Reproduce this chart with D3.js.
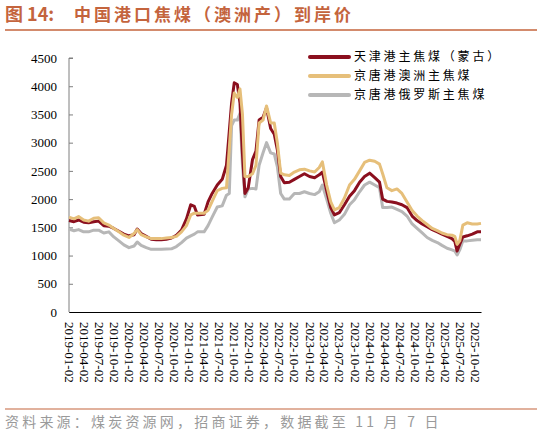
<!DOCTYPE html>
<html>
<head>
<meta charset="utf-8">
<script src="https://cdn.jsdelivr.net/npm/d3@7"></script>
<style>
  body { margin: 0; background: #fff; }
  svg { display: block; }
</style>
</head>
<body>
<svg width="541" height="433"></svg>
<script>
// weekly series, read off roughly once or twice a month
var dates = [
  "2019-01-02","2019-02-01","2019-03-01","2019-04-01","2019-05-01","2019-06-01","2019-07-01","2019-08-01",
  "2019-09-01","2019-10-01","2019-11-01","2019-12-01","2020-01-01","2020-02-01","2020-02-20","2020-03-15",
  "2020-04-15","2020-05-15","2020-06-15","2020-07-15","2020-08-15","2020-09-15","2020-10-15","2020-11-15",
  "2020-12-15","2021-01-10","2021-02-01","2021-02-20","2021-04-01","2021-04-25","2021-05-20","2021-06-20",
  "2021-07-20","2021-08-15","2021-09-01","2021-09-15","2021-10-01","2021-10-20","2021-11-05","2021-11-20",
  "2021-12-05","2021-12-25","2022-01-20","2022-02-10","2022-03-01","2022-03-25","2022-04-15","2022-05-10",
  "2022-06-01","2022-06-20","2022-07-10","2022-08-01","2022-09-01","2022-10-01","2022-11-01","2022-12-01",
  "2023-01-01","2023-02-01","2023-03-01","2023-03-20","2023-04-15","2023-05-10","2023-06-01","2023-07-01",
  "2023-08-01","2023-09-01","2023-10-01","2023-11-01","2023-12-01","2024-01-01","2024-02-01","2024-03-01",
  "2024-03-20","2024-04-15","2024-05-15","2024-06-15","2024-07-15","2024-08-15","2024-09-15","2024-10-15",
  "2024-11-15","2024-12-15","2025-01-15","2025-02-15","2025-03-15","2025-04-15","2025-05-15","2025-06-01",
  "2025-06-15","2025-07-01","2025-07-20","2025-08-15","2025-09-15","2025-10-15","2025-11-07"
];

var tianjinMongolia = [
  1620,1600,1630,1590,1580,1600,1610,1530,
  1520,1480,1430,1380,1350,1370,1470,1390,
  1340,1290,1280,1280,1290,1310,1360,1450,
  1650,1900,1870,1720,1730,1950,2100,2250,
  2350,2600,3200,3700,4060,4030,3700,2800,
  2100,2200,2700,2850,3400,3450,3620,3250,
  3150,2870,2400,2290,2300,2350,2400,2450,
  2400,2380,2430,2480,2150,1850,1720,1760,
  1900,2050,2150,2300,2400,2460,2380,2300,
  2000,1960,1950,1930,1900,1850,1700,1620,
  1560,1510,1460,1420,1380,1340,1300,1250,
  1080,1200,1330,1350,1380,1420,1420
];

var jingtangAustralia = [
  1680,1650,1690,1630,1610,1660,1670,1580,
  1540,1480,1420,1360,1320,1390,1460,1370,
  1330,1300,1300,1300,1310,1320,1340,1420,
  1530,1720,1750,1750,1750,1800,1960,2150,
  2190,2200,2900,3500,3880,3800,3950,3500,
  2400,2400,2450,2600,3350,3400,3650,3350,
  3350,2990,2460,2430,2420,2480,2520,2530,
  2500,2480,2560,2660,2250,1950,1810,1850,
  2020,2250,2350,2500,2650,2690,2670,2620,
  2450,2200,2150,2180,2100,1950,1800,1700,
  1620,1550,1480,1440,1400,1370,1360,1340,
  1200,1260,1540,1580,1560,1560,1570
];

var jingtangRussia = [
  1470,1440,1460,1420,1420,1450,1450,1400,
  1420,1330,1260,1190,1140,1170,1240,1180,
  1140,1110,1110,1110,1115,1120,1160,1230,
  1310,1350,1380,1420,1420,1530,1680,1860,
  1880,2070,2100,3300,3400,3400,3520,2600,
  2040,2180,2190,2180,2600,2820,3000,2820,
  2800,2570,2100,2000,2000,2100,2100,2130,
  2100,2080,2130,2250,2000,1750,1580,1630,
  1730,1900,1990,2130,2250,2300,2250,2200,
  1850,1850,1860,1820,1780,1700,1560,1480,
  1400,1320,1270,1230,1180,1130,1100,1080,
  1010,1100,1260,1260,1270,1280,1280
];

var seriesNames = ["天津港主焦煤（蒙古）", "京唐港澳洲主焦煤", "京唐港俄罗斯主焦煤"];
var seriesColors = ["#8B0F1E", "#E6BF7A", "#B7B7B7"];
var yTicks = [0, 500, 1000, 1500, 2000, 2500, 3000, 3500, 4000, 4500];
var xTickLabels = [
  "2019-01-02","2019-04-02","2019-07-02","2019-10-02","2020-01-02","2020-04-02","2020-07-02",
  "2020-10-02","2021-01-02","2021-04-02","2021-07-02","2021-10-02","2022-01-02","2022-04-02",
  "2022-07-02","2022-10-02","2023-01-02","2023-04-02","2023-07-02","2023-10-02","2024-01-02",
  "2024-04-02","2024-07-02","2024-10-02","2025-01-02","2025-04-02","2025-07-02","2025-10-02"
];

var svg = d3.select("svg"),
    accent = "#C4643D",
    serif = "'Liberation Serif', 'Times New Roman', serif",
    cjk = "'Noto Sans CJK SC', sans-serif";

var parse = d3.timeParse("%Y-%m-%d");

var x = d3.scaleTime()
    .domain([parse(dates[0]), parse(dates[dates.length - 1])])
    .range([69, 481]);

var y = d3.scaleLinear()
    .domain([0, 4500])
    .range([312, 58]);

// title + rule
var title = svg.append("text")
    .attr("x", 5)
    .attr("y", 21)
    .attr("fill", accent)
    .style("font-family", cjk)
    .style("font-size", "17px")
    .style("font-weight", "bold");
title.append("tspan").style("font-size", "18px").text("图 14:");
title.append("tspan")
    .attr("x", 74)
    .style("letter-spacing", "3px")
    .text("中国港口焦煤（澳洲产）到岸价");

svg.append("line")
    .attr("x1", 5).attr("x2", 537)
    .attr("y1", 30).attr("y2", 30)
    .attr("stroke", accent)
    .attr("stroke-width", 1.5);

// y axis
var yAxis = svg.append("g")
    .attr("transform", "translate(69,0)")
    .call(d3.axisRight(y).tickValues(yTicks).tickSize(4).tickFormat(d3.format("d")));
yAxis.select(".domain").attr("stroke", "#7f7f7f").attr("d", "M4,58H0V312");
yAxis.selectAll(".tick line").attr("stroke", "#7f7f7f");
yAxis.selectAll(".tick text")
    .attr("x", -12)
    .attr("text-anchor", "end")
    .attr("fill", "#000")
    .style("font-family", serif)
    .style("font-size", "13px");

// x axis
var xAxis = svg.append("g")
    .attr("transform", "translate(0,312)")
    .call(d3.axisBottom(x).tickValues(xTickLabels.map(parse)).tickSize(0).tickFormat(d3.timeFormat("%Y-%m-%d")));
xAxis.select(".domain").attr("stroke", "#000").attr("stroke-width", 1.2);
xAxis.selectAll(".tick text")
    .attr("transform", "rotate(90)")
    .attr("x", 10)
    .attr("y", 0)
    .attr("dy", "0.35em")
    .attr("text-anchor", "start")
    .attr("fill", "#000")
    .style("font-family", serif)
    .style("font-size", "13px");

// lines
var series = [tianjinMongolia, jingtangAustralia, jingtangRussia];
var line = d3.line()
    .x(function(d, i) { return x(parse(dates[i])); })
    .y(function(d) { return y(d); });

var drawOrder = [2, 0, 1];
svg.append("g").selectAll("path")
    .data(drawOrder)
  .enter().append("path")
    .attr("d", function(k) { return line(series[k]); })
    .attr("fill", "none")
    .attr("stroke", function(k) { return seriesColors[k]; })
    .attr("stroke-width", 3)
    .attr("stroke-linejoin", "round");

// legend
var legend = svg.append("g").selectAll("g")
    .data(seriesNames)
  .enter().append("g")
    .attr("transform", function(d, i) { return "translate(310," + (57 + i * 19) + ")"; });
legend.append("line")
    .attr("x1", 0).attr("x2", 39)
    .attr("stroke", function(d, i) { return seriesColors[i]; })
    .attr("stroke-width", 4)
    .attr("stroke-linecap", "round");
legend.append("text")
    .attr("x", 44)
    .attr("dy", "0.35em")
    .style("font-family", cjk)
    .style("font-size", "12px")
    .style("letter-spacing", "2.8px")
    .text(function(d) { return d; });

// footer
svg.append("line")
    .attr("x1", 5).attr("x2", 537)
    .attr("y1", 409).attr("y2", 409)
    .attr("stroke", accent)
    .attr("stroke-width", 1.2);

svg.append("text")
    .attr("x", 5)
    .attr("y", 427)
    .attr("fill", "#9a9a9a")
    .style("font-family", cjk)
    .style("font-size", "14px")
    .style("letter-spacing", "3.2px")
    .text("资料来源：煤炭资源网，招商证券，数据截至 11 月 7 日");
</script>
</body>
</html>
